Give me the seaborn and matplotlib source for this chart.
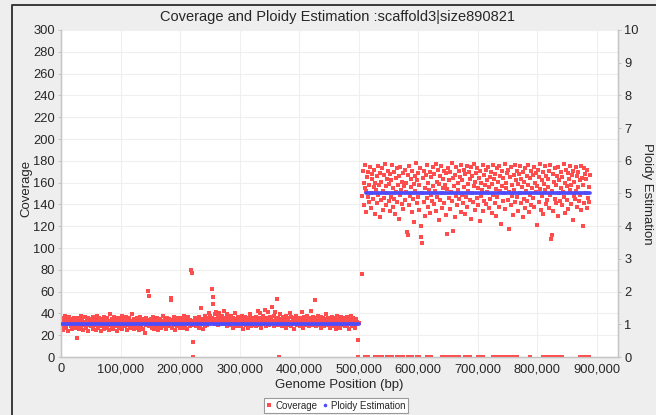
import numpy as np
import pandas as pd
import matplotlib
matplotlib.use("Agg")
import matplotlib.pyplot as plt
from matplotlib.lines import Line2D
from matplotlib.ticker import FuncFormatter, MultipleLocator
import seaborn as sns

# ---- data -------------------------------------------------------------
scaffold = "scaffold3"
scaffold_size = 890821
window = 1000

# coverage per 1 kb window, first block (0 - 500 kb)
cov_block1 = [
    33, 28, 36, 31, 25, 34, 30, 38, 29, 27, 35, 32, 24, 31, 37, 30, 28, 33, 26, 35, 31, 29, 36, 27, 32,
    30, 34, 17, 29, 36, 31, 26, 33, 38, 28, 30, 35, 25, 32, 29, 37, 31, 27, 34, 30, 24, 36, 32, 29, 33,
    28, 35, 31, 26, 37, 30, 33, 29, 25, 34, 32, 38, 27, 31, 36, 30, 28, 33, 24, 35, 31, 29, 37, 26, 32,
    34, 30, 27, 36, 31, 25, 33, 39, 29, 32, 28, 35, 30, 26, 37, 31, 33, 28, 34, 24, 30, 36, 32, 27, 35,
    31, 29, 38, 26, 33, 30, 35, 28, 32, 37, 25, 31, 34, 29, 36, 30, 27, 33, 31, 39, 28, 32, 26, 35, 30,
    33, 29, 36, 27, 31, 34, 25, 30, 37, 32, 28, 35, 31, 26, 33, 30, 22, 36, 29, 32, 34, 61, 56, 28, 31,
    30, 35, 27, 32, 29, 37, 31, 26, 34, 30, 33, 28, 36, 25, 31, 29, 35, 32, 27, 33, 30, 38, 28, 31, 34,
    29, 33, 26, 36, 31, 28, 35, 30, 32, 54, 52, 27, 34, 31, 29, 37, 25, 33, 30, 36, 28, 32, 31, 35, 27,
    32, 30, 36, 28, 34, 31, 27, 38, 33, 29, 35, 30, 26, 32, 37, 31, 28, 34, 30, 80, 77, 14, 0, 33, 29,
    36, 31, 28, 34, 30, 33, 27, 37, 32, 29, 45, 35, 31, 26, 34, 30, 38, 28, 33, 31, 36, 29, 35, 32, 40,
    34, 38, 31, 36, 62, 55, 49, 33, 39, 30, 35, 41, 32, 37, 29, 34, 40, 31, 36, 33, 38, 30, 35, 42, 32,
    36, 30, 34, 39, 28, 33, 37, 31, 35, 29, 38, 32, 34, 27, 36, 31, 33, 40, 30, 35, 28, 34, 37, 31, 33,
    30, 35, 28, 33, 38, 31, 26, 34, 30, 37, 32, 29, 35, 31, 27, 36, 33, 30, 39, 28, 34, 31, 36, 29, 33,
    31, 35, 28, 37, 30, 42, 33, 29, 36, 31, 40, 27, 34, 32, 38, 30, 35, 43, 31, 28, 36, 33, 41, 30, 34,
    29, 37, 32, 35, 30, 46, 33, 28, 38, 31, 41, 34, 30, 53, 36, 29, 0, 33, 39, 31, 35, 28, 37, 32, 30,
    34, 31, 38, 27, 33, 36, 30, 35, 29, 40, 32, 28, 37, 31, 34, 30, 36, 26, 33, 38, 31, 29, 35, 32, 30,
    33, 28, 36, 31, 41, 30, 34, 27, 37, 32, 29, 35, 31, 38, 33, 30, 36, 28, 34, 31, 42, 29, 33, 37, 30,
    35, 52, 31, 28, 36, 33, 30, 38, 29, 34, 31, 37, 27, 33, 30, 36, 32, 28, 35, 31, 39, 30, 34, 29, 36,
    31, 27, 35, 32, 29, 37, 30, 34, 28, 33, 36, 31, 26, 38, 32, 29, 35, 30, 33, 27, 37, 31, 34, 29, 32,
    36, 30, 28, 34, 31, 37, 29, 33, 26, 35, 32, 30, 38, 28, 34, 31, 36, 29, 33, 27, 35, 30, 32, 0, 16,
    31,
]
block1_start = 0

# coverage per 1 kb window, second block (505 - 888 kb)
cov_block2 = [
    76, 148, 171, 160, 139, 155, 176, 152, 133, 165, 147, 170, 158, 142, 174, 150, 137, 163, 168, 145, 156, 172, 131, 160,
    153, 166, 141, 175, 149, 158, 128, 169, 144, 161, 173, 135, 152, 167, 146, 177, 139, 157, 163, 150, 171, 143, 159, 134,
    168, 147, 162, 176, 138, 155, 170, 145, 131, 164, 151, 173, 142, 158, 166, 127, 149, 174, 153, 140, 161, 169, 136, 157,
    172, 144, 160, 151, 115, 112, 167, 139, 175, 148, 163, 156, 133, 171, 145, 159, 124, 166, 152, 178, 141, 162, 147, 169,
    135, 158, 173, 120, 110, 105, 150, 164, 142, 171, 129, 155, 167, 146, 176, 138, 160, 153, 170, 132, 149, 165, 143, 174,
    157, 140, 168, 152, 177, 134, 161, 147, 172, 126, 159, 166, 144, 175, 150, 137, 163, 155, 171, 141, 158, 169, 130, 113,
    154, 173, 146, 162, 136, 170, 151, 178, 143, 164, 116, 157, 128, 167, 148, 174, 139, 160, 153, 171, 145, 165, 133, 176,
    149, 162, 141, 172, 156, 131, 168, 147, 175, 138, 159, 152, 170, 144, 163, 127, 174, 150, 166, 142, 157, 177, 135, 161,
    169, 146, 173, 139, 155, 164, 125, 171, 148, 160, 153, 176, 134, 167, 143, 158, 172, 140, 162, 151, 174, 137, 156, 165,
    145, 170, 132, 159, 176, 149, 163, 141, 168, 154, 129, 173, 147, 161, 138, 175, 152, 166, 122, 157, 171, 143, 164, 150,
    177, 136, 160, 155, 169, 144, 172, 117, 151, 165, 139, 174, 148, 158, 130, 167, 153, 176, 142, 162, 147, 171, 134, 159,
    168, 150, 175, 141, 163, 156, 128, 170, 145, 161, 137, 173, 152, 166, 143, 158, 176, 133, 164, 149, 171, 139, 155, 167,
    146, 174, 138, 160, 151, 169, 121, 157, 172, 142, 165, 154, 177, 135, 162, 148, 170, 131, 159, 153, 175, 140, 166, 144,
    163, 156, 171, 137, 149, 176, 108, 112, 152, 168, 134, 161, 145, 173, 141, 158, 166, 129, 174, 150, 162, 143, 170, 155,
    139, 165, 151, 177, 147, 160, 132, 172, 144, 157, 169, 136, 163, 153, 175, 140, 158, 167, 126, 171, 148, 161, 145, 174,
    152, 166, 138, 170, 156, 143, 162, 149, 175, 135, 164, 120, 158, 173, 141, 168, 150, 163, 137, 172, 146, 156, 142, 167,
]
block2_start = 505000

# windows (kb) in the second block with no read coverage
zero_cov_kb = [
    510, 513, 516, 527, 530, 533, 536, 539, 547, 550, 553, 556, 565, 568, 571, 574,
    582, 586, 589, 597, 601, 614, 618, 622, 639, 642, 645, 648, 651, 654, 657, 664,
    668, 678, 682, 686, 700, 703, 706, 709, 725, 728, 731, 734, 737, 740, 743, 746,
    753, 756, 759, 762, 765, 788, 809, 812, 815, 818, 821, 824, 832, 835, 838, 841,
    871, 874, 877, 880, 883, 886,
]

# ploidy calls per segment
ploidy_seg_start = [1000, 512000]
ploidy_seg_end = [501000, 889000]
ploidy_value = [1, 5]

coverage_per_copy = 30

# ---- tables -----------------------------------------------------------
pos1 = block1_start + np.arange(len(cov_block1)) * window
pos2 = block2_start + np.arange(len(cov_block2)) * window
coverage = pd.DataFrame({
    "position": np.concatenate([pos1, pos2, np.array(zero_cov_kb) * 1000]),
    "coverage": np.concatenate([cov_block1, cov_block2, np.zeros(len(zero_cov_kb))]),
})

ploidy = pd.DataFrame({
    "position": [p for s, e in zip(ploidy_seg_start, ploidy_seg_end) for p in (s, e)],
    "ploidy": [v for v in ploidy_value for _ in (0, 1)],
    "segment": [i for i in range(len(ploidy_value)) for _ in (0, 1)],
})

# ---- style ------------------------------------------------------------
sns.set_style("white")
plt.rcParams["font.family"] = ["Liberation Sans", "DejaVu Sans"]
text_col = "#262626"
red = "#ff4d4d"
blue = "#4d4dff"
bg = "#eeeeee"

fig = plt.figure(figsize=(6.56, 4.15), dpi=100, facecolor=bg)
ax = fig.add_axes([61 / 656, 1 - 357 / 415, (618 - 61) / 656, (357 - 30) / 415])
ax.set_facecolor("white")

sns.scatterplot(data=coverage, x="position", y="coverage", ax=ax, color=red,
                marker="s", s=6.5, linewidth=0, legend=False, zorder=3)

ax.set_xlim(0, scaffold_size * 1.05)
ax.set_ylim(0, 300)
ax.xaxis.set_major_locator(MultipleLocator(100000))
ax.yaxis.set_major_locator(MultipleLocator(20))
ax.xaxis.set_major_formatter(FuncFormatter(lambda v, _: f"{int(v):,}"))
ax.grid(True, color="#efefef", lw=0.8, zorder=0)
ax.set_axisbelow(True)

ax2 = ax.twinx()
sns.lineplot(data=ploidy, x="position", y="ploidy", units="segment", estimator=None,
             ax=ax2, color=blue, lw=2.7, legend=False, zorder=4)
ax2.set_ylim(0, 300 / coverage_per_copy)
ax2.yaxis.set_major_locator(MultipleLocator(1))

for a in (ax, ax2):
    for side in ("top", "left", "right", "bottom"):
        a.spines[side].set_visible(side != "top")
        a.spines[side].set_color("#c4c4c4")
        a.spines[side].set_linewidth(0.9)
    a.tick_params(length=2.5, width=0.7, color="#c4c4c4", labelsize=9.3,
                  labelcolor=text_col, pad=2)

ax.set_xlabel("Genome Position (bp)", fontsize=9.5, color=text_col, labelpad=3)
ax.set_ylabel("Coverage", fontsize=9.5, color=text_col)
ax.yaxis.set_label_coords(-0.052, 0.515)
ax2.set_ylabel("Ploidy Estimation", fontsize=9.5, color=text_col, rotation=-90, labelpad=10)
fig.text(0.515, 1 - 17 / 415, f"Coverage and Ploidy Estimation :{scaffold}|size{scaffold_size}",
         ha="center", va="center", fontsize=10.5, color=text_col)

handles = [
    Line2D([], [], ls="", marker="s", markersize=2.2, color=red, markeredgewidth=0),
    Line2D([], [], ls="", marker="o", markersize=2.6, color=blue, markeredgewidth=0),
]
leg = fig.legend(handles, ["Coverage", "Ploidy Estimation"], loc="center",
                 bbox_to_anchor=(336 / 656, 1 - 405.5 / 415), ncol=2, fontsize=7,
                 frameon=True, fancybox=False, edgecolor="#9a9a9a", facecolor="white",
                 handlelength=0.6, handletextpad=0.3, columnspacing=0.5, borderpad=0.25,
                 framealpha=1)
leg.get_frame().set_linewidth(0.8)

# window frame edge
fig.add_artist(Line2D([12 / 656, 12 / 656, 1.0], [0.0, 1 - 5 / 415, 1 - 5 / 415],
                      transform=fig.transFigure, color="#3a3a3a", lw=1.4))

fig.savefig("out.png", dpi=100, facecolor=bg)
